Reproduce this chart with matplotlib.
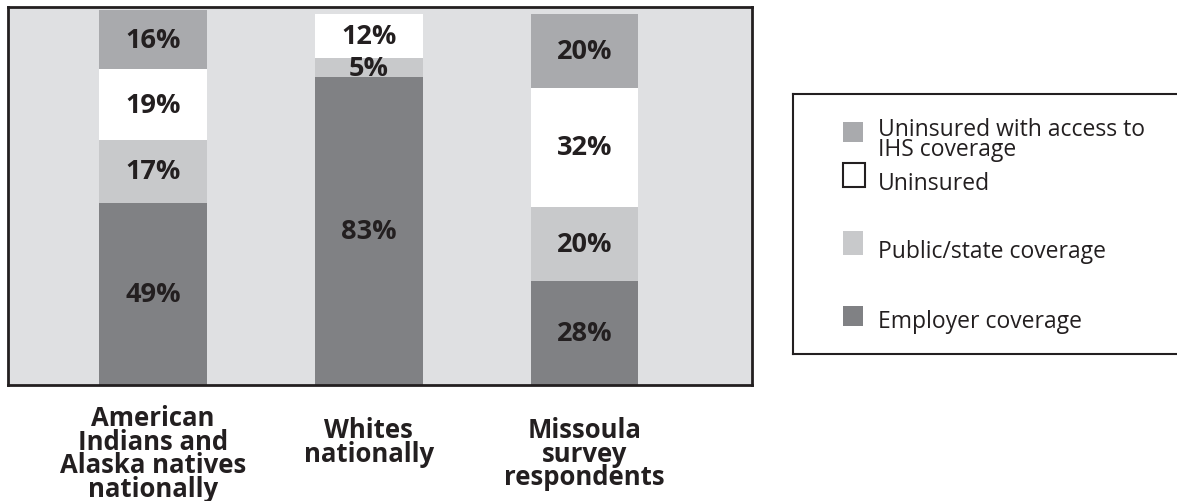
import matplotlib.pyplot as plt
from matplotlib.patches import Rectangle
from matplotlib.transforms import blended_transform_factory

# health coverage by group, stacked bottom -> top
groups = ['American\nIndians and\nAlaska natives\nnationally',
          'Whites\nnationally',
          'Missoula\nsurvey\nrespondents']
employer = [49, 83, 28]
public = [17, 5, 20]
uninsured = [19, 12, 32]
ihs = [16, 0, 20]

series = ['Employer coverage', 'Public/state coverage', 'Uninsured',
          'Uninsured with access to\nIHS coverage']
colors = ['#808184', '#c8c9cb', '#ffffff', '#a9aaad']
ink = '#231f20'
bg = '#dfe0e2'

plt.rcParams['font.family'] = ['Open Sans', 'DejaVu Sans']

fig = plt.figure(figsize=(11.77, 5.02), dpi=100)
ax = fig.add_axes([8/1177, 116/502, 744/1177, 378/502])
ax.set_facecolor(bg)

x = [0, 1, 2]
bottom = [0, 0, 0]
for vals, c in zip([employer, public, uninsured, ihs], colors):
  bars = ax.bar(x, vals, width=0.5, bottom=bottom, color=c, linewidth=0, zorder=2)
  for b, v, b0 in zip(bars, vals, bottom):
    if v > 0:
      ax.text(b.get_x() + b.get_width()/2, b0 + v/2, '%d%%' % v,
              ha='center', va='center', fontsize=19.5, fontweight='bold',
              color=ink, zorder=3)
  bottom = [b0 + v for b0, v in zip(bottom, vals)]

ax.set_xlim(-0.673, 2.777)
ax.set_ylim(0, 101.8)
ax.set_xticks([])
ax.set_yticks([])
for s in ax.spines.values():
  s.set_linewidth(2)
  s.set_color(ink)

# group names under the bars
trans = blended_transform_factory(ax.transData, fig.transFigure)
label_top = [405, 417, 417]
for xi, g, t in zip(x, groups, label_top):
  ax.text(xi, 1 - t/502, g, transform=trans, ha='center', va='top',
          fontsize=18.5, fontweight='bold', color=ink, linespacing=0.84)

# legend box
lg = fig.add_axes([793/1177, 147/502, 390/1177, 260/502])
lg.set_xlim(0, 390)
lg.set_ylim(260, 0)
lg.set_xticks([])
lg.set_yticks([])
for s in lg.spines.values():
  s.set_linewidth(1.5)
  s.set_color(ink)

entries = [(3, 28, 20, 'Uninsured with access to\nIHS coverage', 45),
           (2, 69, 24, 'Uninsured', 89),
           (1, 137, 24, 'Public/state coverage', 157),
           (0, 212, 20, 'Employer coverage', 227)]
for i, ytop, h, txt, ty in entries:
  edge = ink if colors[i] == '#ffffff' else 'none'
  lg.add_patch(Rectangle((50, ytop), 22 if edge != 'none' else 20, h,
                         facecolor=colors[i], edgecolor=edge, linewidth=1.5))
  lg.text(85, ty, txt, ha='left', va='center', fontsize=16.5, color=ink,
          linespacing=0.78)

fig.savefig('out.png', dpi=100, facecolor='white')
